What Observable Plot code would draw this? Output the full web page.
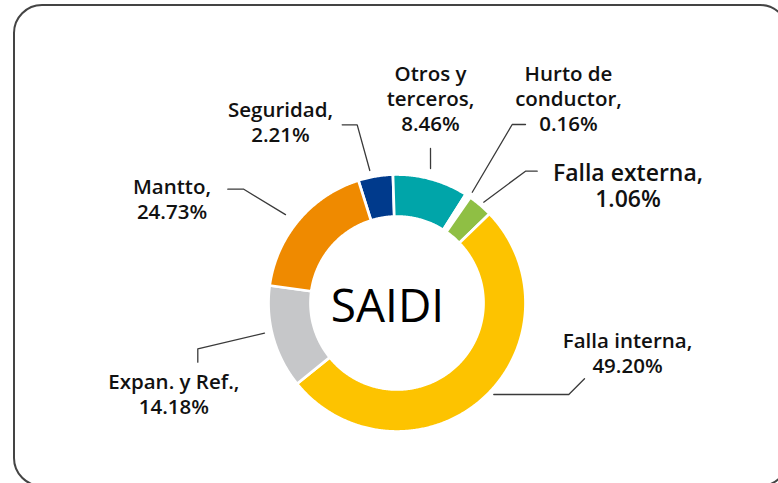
<!DOCTYPE html>
<html>
<head>
<meta charset="utf-8">
<script src="https://cdn.jsdelivr.net/npm/d3@7"></script>
<script src="https://cdn.jsdelivr.net/npm/@observablehq/plot@0.6"></script>
<style>
  html, body { margin: 0; padding: 0; background: #fff; overflow: hidden; }
  #wrap { position: relative; width: 778px; height: 483px; overflow: hidden; }
  #frame { position: absolute; left: 13px; top: 4px; width: 776px; height: 483px;
           box-sizing: border-box; border: 2.5px solid #444; border-radius: 29px; }
  #chart { position: absolute; left: 0; top: 0; }
</style>
</head>
<body>
<div id="wrap"><div id="frame"></div><div id="chart"></div></div>
<script>
// ---- data ----
const categories = ["Seguridad", "Otros y terceros", "Hurto de conductor", "Falla externa", "Falla interna", "Expan. y Ref.", "Mantto"];
const labelNames = ["Seguridad,", "Otros y\nterceros,", "Hurto de\nconductor,", "Falla externa,", "Falla interna,", "Expan. y Ref.,", "Mantto,"];
const labelPct = [2.21, 8.46, 0.16, 1.06, 49.20, 14.18, 24.73];
// slice sizes as drawn in the picture (%)
const sliceShare = [4.36, 9.47, 0.69, 3.14, 51.39, 13.0, 17.97];
const centerTitle = "SAIDI";

// ---- styles / layout ----
const colors = ["#003a8c", "#00a5a9", "#ffffff", "#8fbf44", "#fdc300", "#c6c7c9", "#ef8a00"];
const W = 778, H = 483;
const cx = 396.5, cy = 302.5, rOuter = 128.5, rInner = 86.5, startDeg = -17.5;
const labelPos = [[280, 120.6], [430, 97.8], [568, 97.8], [627.5, 185.2], [627, 352], [173.3, 393.3], [171.5, 197.5]];
const leaderAngle = [-11.6, 14.0, 34.2, 40.7, 133.4, 257.2, 308.4];
const leaderR = [135.3, 138.6, 133.9, 133, 133.2, 135.9, 142.3];
const leaderBends = [
  [[356.7, 124.3], [341.7, 124.3]],
  [[430, 148]],
  [[511.7, 124], [525, 124]],
  [[525, 170.7], [536.7, 170.7]],
  [[568.3, 394], [584, 378.3]],
  [[197.3, 348.3], [197.3, 361.7]],
  [[243.3, 188.7], [227.3, 188.7]]
];

const rad = d => d * Math.PI / 180;
const polar = (deg, r) => [cx + r * Math.sin(rad(deg)), cy - r * Math.cos(rad(deg))];

const total = d3.sum(sliceShare);
let acc = startDeg;
const arcs = categories.map((c, i) => {
  const a0 = acc, a1 = acc + sliceShare[i] / total * 360;
  acc = a1;
  return {c, a0, a1};
});
const ringPts = arcs.flatMap(({c, a0, a1}) => {
  const n = Math.max(2, Math.ceil((a1 - a0) / 0.5));
  const pts = [];
  for (let k = 0; k <= n; k++) { const [x, y] = polar(a0 + (a1 - a0) * k / n, rOuter); pts.push({c, x, y}); }
  for (let k = n; k >= 0; k--) { const [x, y] = polar(a0 + (a1 - a0) * k / n, rInner); pts.push({c, x, y}); }
  return pts;
});

const leaderPts = categories.flatMap((c, i) => {
  const [x0, y0] = polar(leaderAngle[i], leaderR[i]);
  return [{c, x: x0, y: y0}, ...leaderBends[i].map(([x, y]) => ({c, x, y}))];
});

const labels = categories.map((c, i) => ({
  c,
  text: labelNames[i] + "\n" + labelPct[i].toFixed(2) + "%",
  x: labelPos[i][0],
  y: labelPos[i][1]
}));

const font = "'Open Sans', 'Noto Sans', sans-serif";
const chart = Plot.plot({
  width: W, height: H,
  margin: 0,
  style: {fontFamily: font, background: "transparent", overflow: "visible"},
  x: {domain: [0, W], range: [0, W], axis: null},
  y: {domain: [0, H], range: [0, H], axis: null},
  color: {domain: categories, range: colors},
  marks: [
    Plot.line(ringPts, {x: "x", y: "y", z: "c", fill: "c", stroke: "white", strokeWidth: 2.7, curve: "linear-closed"}),
    Plot.line(leaderPts, {x: "x", y: "y", z: "c", stroke: "#3a3a3a", strokeWidth: 1.3}),
    Plot.text(labels.filter(d => d.c !== "Falla externa"), {
      x: "x", y: "y", text: "text", fontSize: 20.5, fontWeight: 600, lineHeight: 1.22,
      lineAnchor: "middle", textAnchor: "middle", fill: "#111", fontFamily: font
    }),
    Plot.text(labels.filter(d => d.c === "Falla externa"), {
      x: "x", y: "y", text: "text", fontSize: 23, fontWeight: 600, lineHeight: 1.14,
      lineAnchor: "middle", textAnchor: "middle", fill: "#111", fontFamily: font
    }),
    Plot.text([centerTitle], {
      x: () => cx - 9.5, y: () => cy + 4, text: d => d, fontSize: 46, fontWeight: 400,
      lineAnchor: "middle", textAnchor: "middle", fill: "#000",
      fontFamily: "'Open Sans', sans-serif", letterSpacing: -2
    })
  ]
});
document.getElementById("chart").appendChild(chart);
</script>
</body>
</html>
